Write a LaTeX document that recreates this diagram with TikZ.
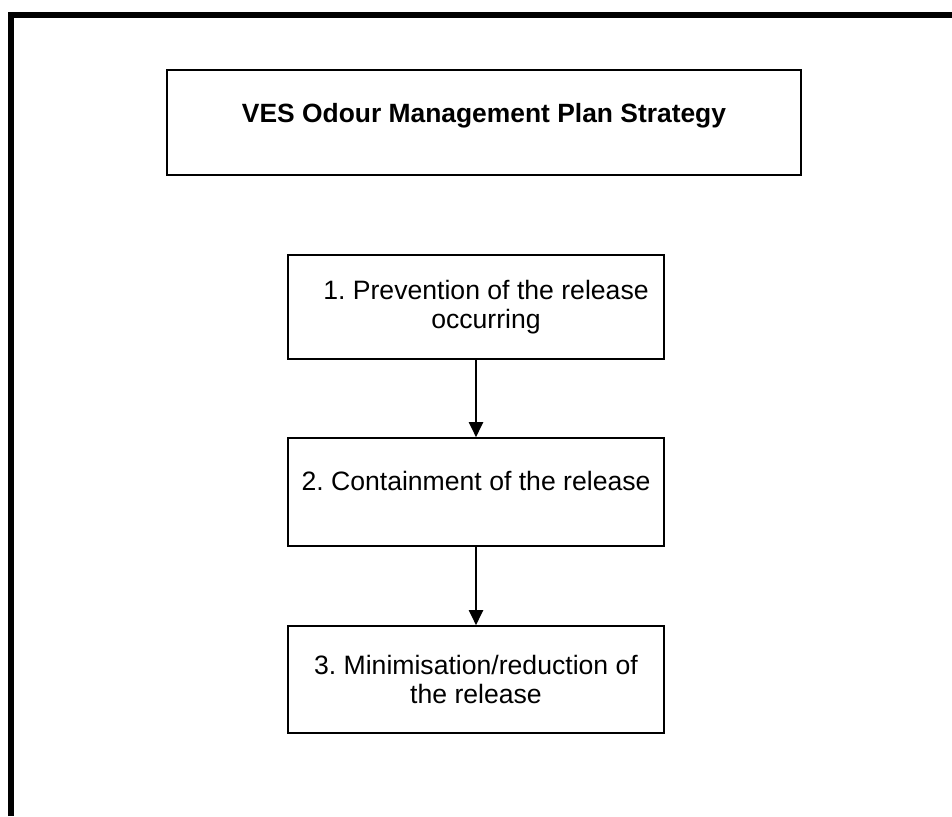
\documentclass[tikz,border=0pt]{standalone}
\usepackage{fontspec}
\setmainfont{Liberation Sans}
\usetikzlibrary{arrows.meta}
\frenchspacing

\begin{document}
\begin{tikzpicture}[x=1pt,y=-1pt,
  stage/.style={draw,line width=1.6pt,minimum width=376pt,inner sep=0pt,align=center,font=\fontsize{26.6}{29.5}\selectfont},
  link/.style={line width=2pt,-{Triangle[width=14pt,length=15pt]}}]
\useasboundingbox (0,0) rectangle (952,816);
% outer frame
\draw[line width=6pt] (11,816) -- (11,15) -- (952,15);
\node[draw,line width=1.6pt,minimum width=634pt,minimum height=105pt,text height=19pt,text depth=19pt,
  font=\bfseries\fontsize{26.4}{29.5}\selectfont] (title) at (484,122.5) {VES Odour Management Plan Strategy};
\node[stage,minimum height=104pt] (prevent) at (476,307)
  {\hspace*{20pt}1. Prevention of the release\\\hspace*{20pt}occurring};
\node[stage,minimum height=108pt,text height=19pt,text depth=23pt] (contain) at (476,492) {2. Containment of the release};
\node[stage,minimum height=107pt] (minimise) at (476,679.5) {3. Minimisation/reduction of\\the release};
\draw[link] (prevent) -- (contain);
\draw[link] (contain) -- (minimise);
\end{tikzpicture}
\end{document}
